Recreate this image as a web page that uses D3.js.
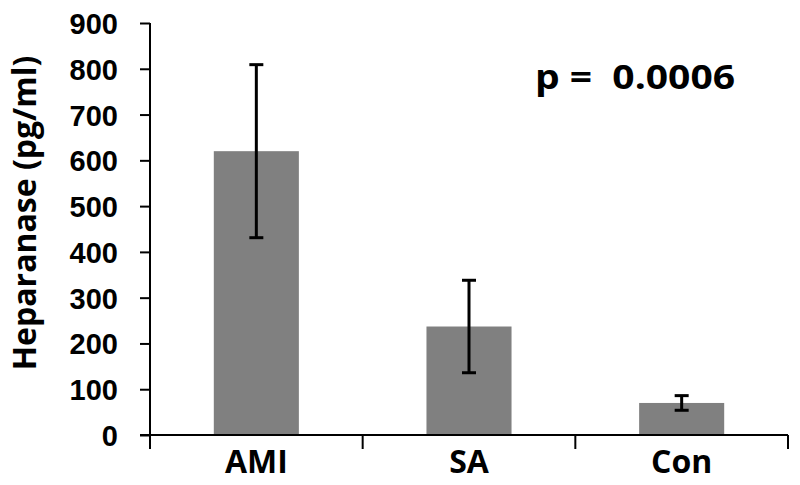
<!doctype html>
<html>
<head>
<meta charset="utf-8" />
<title>Heparanase</title>
<script src="https://cdn.jsdelivr.net/npm/d3@7"></script>
<style>
  html, body { margin: 0; padding: 0; background: #fff; }
  svg { display: block; font-family: "Open Sans", "Liberation Sans", sans-serif; font-weight: bold; }
</style>
</head>
<body>
<script>
// data
const groups = ["AMI", "SA", "Con"];
const means = [620, 237, 70];
const errors = [189, 101, 16];
const yTicks = [0, 100, 200, 300, 400, 500, 600, 700, 800, 900];
const pLabel = "p =  0.0006";

const width = 800, height = 485;
const m = { top: 23, right: 12, bottom: 50, left: 150 };

const svg = d3.select("body").append("svg")
  .attr("width", width)
  .attr("height", height);

const x = d3.scaleBand()
  .domain(groups)
  .range([m.left, width - m.right])
  .paddingInner(0.6)
  .paddingOuter(0.3);

const y = d3.scaleLinear()
  .domain([0, 900])
  .range([height - m.bottom, m.top]);

// bars
svg.append("g")
  .selectAll("rect")
  .data(groups)
  .join("rect")
  .attr("x", d => x(d))
  .attr("width", x.bandwidth())
  .attr("y", (d, i) => y(means[i]))
  .attr("height", (d, i) => y(0) - y(means[i]))
  .attr("fill", "#808080");

// error bars
const eb = svg.append("g")
  .attr("stroke", "#000")
  .attr("stroke-width", 3)
  .selectAll("g")
  .data(groups)
  .join("g")
  .attr("transform", d => `translate(${x(d) + x.bandwidth() / 2},0)`);
eb.append("line")
  .attr("y1", (d, i) => y(means[i] + errors[i]))
  .attr("y2", (d, i) => y(means[i] - errors[i]));
eb.append("line")
  .attr("x1", -7).attr("x2", 7)
  .attr("y1", (d, i) => y(means[i] + errors[i]))
  .attr("y2", (d, i) => y(means[i] + errors[i]));
eb.append("line")
  .attr("x1", -7).attr("x2", 7)
  .attr("y1", (d, i) => y(means[i] - errors[i]))
  .attr("y2", (d, i) => y(means[i] - errors[i]));

// y axis
const yAxis = svg.append("g")
  .attr("transform", `translate(${m.left},0)`)
  .call(d3.axisLeft(y).tickValues(yTicks).tickSize(10).tickSizeOuter(0).tickPadding(22));
yAxis.select(".domain").remove();
yAxis.append("line")
  .attr("y1", y(900)).attr("y2", y(0) + 14)
  .attr("stroke", "#000");
yAxis.selectAll("line").attr("stroke-width", 2);
yAxis.selectAll("text")
  .attr("fill", "#000")
  .style("font-size", "29px")
  .attr("dy", "0.36em");

// x axis
const xg = svg.append("g");
xg.append("line")
  .attr("x1", m.left - 10).attr("x2", width - m.right)
  .attr("y1", y(0)).attr("y2", y(0))
  .attr("stroke", "#000").attr("stroke-width", 2);
const bounds = groups.map((d, i) => m.left + (i + 1) * (width - m.right - m.left) / groups.length);
xg.selectAll(".tk")
  .data(bounds)
  .join("line")
  .attr("class", "tk")
  .attr("x1", d => d).attr("x2", d => d)
  .attr("y1", y(0)).attr("y2", y(0) + 14)
  .attr("stroke", "#000").attr("stroke-width", 2);
xg.selectAll("text")
  .data(groups)
  .join("text")
  .attr("x", d => x(d) + x.bandwidth() / 2)
  .attr("y", 473)
  .attr("text-anchor", "middle")
  .style("font-size", "32px")
  .text(d => d);

// y title
svg.append("text")
  .attr("transform", `translate(36,213) rotate(-90)`)
  .attr("text-anchor", "middle")
  .style("font-size", "32px")
  .text("Heparanase (pg/ml)");

// p value
svg.append("text")
  .attr("x", 535)
  .attr("y", 89)
  .attr("textLength", 200)
  .attr("lengthAdjust", "spacingAndGlyphs")
  .style("font-size", "34px")
  .style("white-space", "pre")
  .text(pLabel);
</script>
</body>
</html>
